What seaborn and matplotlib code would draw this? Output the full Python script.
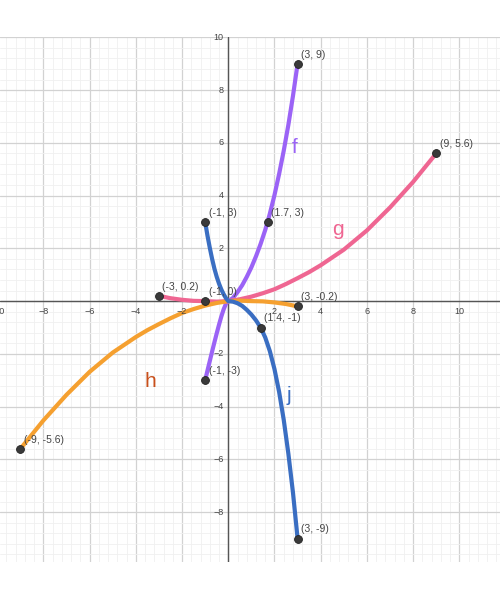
import matplotlib
matplotlib.use("Agg")
import matplotlib.pyplot as plt
from matplotlib.ticker import MultipleLocator
import pandas as pd
import seaborn as sns

# curve samples
f_x = [-1, -0.9, -0.8, -0.7, -0.6, -0.5, -0.4, -0.3, -0.2, -0.1, 0,
       0.2, 0.4, 0.6, 0.8, 1.0, 1.2, 1.4, 1.6, 1.7, 1.8, 2.0, 2.2, 2.4, 2.6, 2.8, 3.0]
f_y = [-3.0, -2.63, -2.27, -1.91, -1.56, -1.22, -0.89, -0.58, -0.31, -0.1, 0,
       0.12, 0.34, 0.6, 0.92, 1.28, 1.7, 2.17, 2.7, 3.0, 3.32, 4.02, 4.82, 5.7, 6.68, 7.78, 9.0]

g_x = [-3, -2.5, -2, -1.5, -1, -0.5, 0, 0.5, 1, 1.5, 2, 2.5, 3, 3.5, 4, 5, 6, 7, 8, 9]
g_y = [0.2, 0.11, 0.05, 0.01, 0.0, -0.02, 0, 0.07, 0.17, 0.3, 0.45, 0.65, 0.87, 1.1, 1.36, 1.95, 2.68, 3.55, 4.52, 5.6]

h_x = [-9, -8, -7, -6, -5, -4, -3.5, -3, -2.5, -2, -1.5, -1, -0.5, 0, 0.5, 1, 1.5, 2, 2.5, 3]
h_y = [-5.6, -4.52, -3.55, -2.68, -1.95, -1.36, -1.1, -0.87, -0.65, -0.45, -0.3, -0.17, -0.07, 0, 0.02, 0.0, -0.01, -0.05, -0.11, -0.2]

j_x = [-1, -0.9, -0.8, -0.7, -0.6, -0.5, -0.4, -0.3, -0.2, -0.1, 0,
       0.2, 0.4, 0.6, 0.8, 1.0, 1.2, 1.4, 1.6, 1.8, 2.0, 2.2, 2.4, 2.6, 2.8, 3.0]
j_y = [3.0, 2.48, 2.02, 1.6, 1.23, 0.92, 0.66, 0.44, 0.26, 0.11, 0,
       -0.02, -0.08, -0.18, -0.33, -0.51, -0.73, -1.0, -1.38, -1.9, -2.58, -3.44, -4.5, -5.78, -7.26, -9.0]

# marked points
pt_x = [3, 9, -1, 1.7, -3, -1, 3, 1.4, -1, -9, 3]
pt_y = [9, 5.6, 3, 3, 0.2, 0, -0.2, -1, -3, -5.6, -9]
pt_lbl = ["(3, 9)", "(9, 5.6)", "(-1, 3)", "(1.7, 3)", "(-3, 0.2)", "(-1, 0)",
          "(3, -0.2)", "(1.4, -1)", "(-1, -3)", "(-9, -5.6)", "(3, -9)"]

names = ["f", "g", "h", "j"]
colors = {"f": "#9b63f6", "g": "#ef6692", "h": "#f5a030", "j": "#3a6ec2"}
name_pos = {"f": (2.89, 5.83), "g": (4.74, 2.72), "h": (-3.39, -3.06), "j": (2.6, -3.56)}
name_col = {"f": "#9b63f6", "g": "#ef6692", "h": "#c8501c", "j": "#3a6ec2"}

xticks = [-10, -8, -6, -4, -2, 2, 4, 6, 8, 10]
yticks = [-8, -6, -4, -2, 2, 4, 6, 8, 10]

rows = []
for n, xs, ys in [("f", f_x, f_y), ("g", g_x, g_y), ("h", h_x, h_y), ("j", j_x, j_y)]:
    for a, b in zip(xs, ys):
        rows.append((n, a, b))
df = pd.DataFrame(rows, columns=["curve", "x", "y"])
pts = pd.DataFrame({"x": pt_x, "y": pt_y, "label": pt_lbl})

sns.set_style("white")
plt.rcParams["font.family"] = ["Liberation Sans", "DejaVu Sans"]

fig = plt.figure(figsize=(5, 6), dpi=100)
ax = fig.add_axes([0, 0.0633, 1, 0.8745])
ax.set_xlim(-9.88, 11.76)
ax.set_ylim(-9.89, 10.0)

ax.xaxis.set_major_locator(MultipleLocator(2))
ax.yaxis.set_major_locator(MultipleLocator(2))
ax.xaxis.set_minor_locator(MultipleLocator(0.4))
ax.yaxis.set_minor_locator(MultipleLocator(0.4))
ax.grid(which="major", color="#d2d2d2", linewidth=0.9)
ax.grid(which="minor", color="#f0f0f0", linewidth=0.6)
ax.set_axisbelow(True)
ax.tick_params(which="both", length=0, labelbottom=False, labelleft=False)
for s in ax.spines.values():
    s.set_visible(False)
ax.axhline(0, color="#555555", linewidth=1.0, zorder=1)
ax.axvline(0, color="#555555", linewidth=1.0, zorder=1)

for t in xticks:
    ax.text(t, -0.22, "\u2212%d" % -t if t < 0 else str(t), ha="center", va="top",
            fontsize=6.5, color="#444444", clip_on=False, zorder=7)
for t in yticks:
    ax.text(-0.2, t, "\u2212%d" % -t if t < 0 else str(t), ha="right", va="center",
            fontsize=6.5, color="#444444", clip_on=False, zorder=7)

sns.lineplot(data=df, x="x", y="y", hue="curve", units="curve", estimator=None,
             sort=False, palette=colors, linewidth=3, legend=False, ax=ax, zorder=3)
sns.scatterplot(data=pts, x="x", y="y", color="#3a3a3a", s=32, edgecolor="#222222",
                linewidth=0.6, ax=ax, zorder=5)
for _, r in pts.iterrows():
    ax.annotate(r["label"], (r["x"], r["y"]), xytext=(2.5, 3), textcoords="offset points",
                ha="left", va="bottom", fontsize=7.5, color="#444444", zorder=6)

for n in names:
    ax.text(*name_pos[n], n, color=name_col[n], fontsize=15, ha="center", va="center", zorder=6)

ax.set_xlabel("")
ax.set_ylabel("")
fig.savefig("out.png", dpi=100)
